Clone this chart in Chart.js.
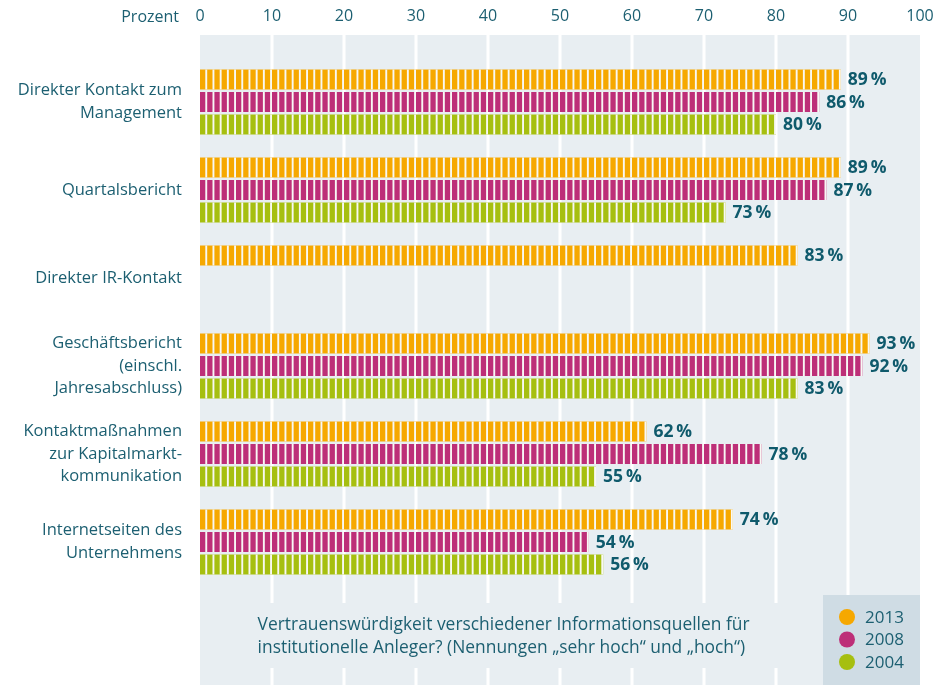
<!DOCTYPE html>
<html><head><meta charset="utf-8">
<script src="https://cdn.jsdelivr.net/npm/chart.js@4.4.1/dist/chart.umd.min.js"></script>
<style>html,body{margin:0;padding:0;background:#fff;}#wrap{width:945px;height:685px;}</style>
</head><body><div id="wrap"><canvas id="c" width="945" height="685"></canvas></div>
<script>
const categories = [
  ['Direkter Kontakt zum', 'Management'],
  'Quartalsbericht',
  'Direkter IR-Kontakt',
  ['Geschäftsbericht', '(einschl.', 'Jahresabschluss)'],
  ['Kontaktmaßnahmen', 'zur Kapitalmarkt-', 'kommunikation'],
  ['Internetseiten des', 'Unternehmens']
];
const seriesNames = ['2013', '2008', '2004'];
const values2013 = [89, 89, 83, 93, 62, 74];
const values2008 = [86, 87, null, 92, 78, 54];
const values2004 = [80, 73, null, 83, 55, 56];
const xTicks = [0, 10, 20, 30, 40, 50, 60, 70, 80, 90, 100];
const axisUnitLabel = 'Prozent';
const captionLines = [
  'Vertrauenswürdigkeit verschiedener Informationsquellen für',
  'institutionelle Anleger? (Nennungen \u201Esehr hoch\u201C und \u201Ehoch\u201C)'
];

const COLORS = ['#f6a800', '#bd2f78', '#a6bf10'];
const TEXT = '#1c5f71';
const VALTEXT = '#0f5a6c';
const PLOTBG = '#e8eef2';
const LEGENDBG = '#cfdce4';
const FONT = "'Open Sans', sans-serif";

const bgPlugin = {
  id: 'bg',
  beforeDatasetsDraw(chart) {
    const {ctx, chartArea, scales} = chart;
    const x = scales.x;
    const top = chartArea.top - 23, bottom = chart.height;
    ctx.save();
    ctx.fillStyle = PLOTBG;
    ctx.fillRect(chartArea.left, top, chartArea.right - chartArea.left, bottom - top);
    ctx.fillStyle = '#ffffff';
    xTicks.forEach(t => {
      if (t === 0 || t === 100) return;
      const px = x.getPixelForValue(t);
      ctx.fillRect(px - 1.5, top, 3, bottom - top);
    });
    ctx.restore();
  }
};

const stripePlugin = {
  id: 'stripes',
  afterDatasetsDraw(chart) {
    const {ctx, scales} = chart;
    const x = scales.x;
    ctx.save();
    chart.data.datasets.forEach((ds, di) => {
      const meta = chart.getDatasetMeta(di);
      meta.data.forEach((el, i) => {
        const v = ds.data[i];
        if (v === null || v === undefined) return;
        const h = el.height;
        const top = el.y - h / 2;
        ctx.fillStyle = '#f8f8f4';
        for (let k = 1; k <= Math.ceil(v); k++) {
          const px = x.getPixelForValue(k);
          ctx.fillRect(px - 1.9, top, 1.9, h);
        }
        ctx.fillStyle = VALTEXT;
        ctx.font = "bold 17.5px " + FONT;
        ctx.textAlign = 'left';
        ctx.textBaseline = 'middle';
        ctx.fillText(v + '\u2009%', x.getPixelForValue(v) + 7, el.y + 1);
      });
    });
    ctx.restore();
  },
  afterDraw(chart) {
    const {ctx, chartArea, scales} = chart;
    const x = scales.x;
    ctx.save();
    ctx.fillStyle = TEXT;
    ctx.font = "16px " + FONT;
    ctx.textAlign = 'right';
    ctx.textBaseline = 'middle';
    ctx.fillText(axisUnitLabel, chartArea.left - 21, 17);
    // caption
    const capLeft = x.getPixelForValue(8);
    ctx.fillStyle = PLOTBG;
    ctx.fillRect(capLeft - 18, chartArea.bottom + 17, 560, 65);
    ctx.fillStyle = TEXT;
    ctx.font = "17.4px " + FONT;
    ctx.textAlign = 'left';
    captionLines.forEach((l, i) => ctx.fillText(l, capLeft, chartArea.bottom + 39 + i * 23));
    // legend
    const lx = chartArea.right - 97;
    const ly = chartArea.bottom + 9;
    ctx.fillStyle = LEGENDBG;
    ctx.fillRect(lx, ly, 97, chart.height - ly);
    chart.data.datasets.forEach((ds, i) => {
      const cy = ly + 22 + i * 22.5;
      ctx.fillStyle = ds.backgroundColor;
      ctx.beginPath();
      ctx.arc(lx + 24, cy, 8, 0, Math.PI * 2);
      ctx.fill();
      ctx.fillStyle = TEXT;
      ctx.font = "17px " + FONT;
      ctx.fillText(ds.label, lx + 42, cy + 1);
    });
    ctx.restore();
  }
};

new Chart(document.getElementById('c'), {
  type: 'bar',
  data: {
    labels: categories,
    datasets: [
      {label: seriesNames[0], data: values2013, backgroundColor: COLORS[0]},
      {label: seriesNames[1], data: values2008, backgroundColor: COLORS[1]},
      {label: seriesNames[2], data: values2004, backgroundColor: COLORS[2]}
    ]
  },
  options: {
    indexAxis: 'y',
    responsive: false,
    animation: false,
    devicePixelRatio: 1,
    layout: {padding: {top: 8, right: 25, bottom: 99, left: 0}},
    datasets: {bar: {categoryPercentage: 0.767, barPercentage: 0.889}},
    plugins: {legend: {display: false}, tooltip: {enabled: false}},
    scales: {
      x: {
        position: 'top',
        min: 0, max: 100,
        afterBuildTicks: s => { s.ticks = xTicks.map(v => ({value: v})); },
        afterFit: s => { s.height = 50; s.paddingLeft = 0; s.paddingRight = 0; },
        grid: {display: false, drawTicks: false},
        border: {display: false},
        ticks: {color: TEXT, font: {family: FONT, size: 16}, padding: 32, maxRotation: 0}
      },
      y: {
        afterFit: s => { s.width = 200; },
        grid: {display: false, drawTicks: false},
        border: {display: false},
        ticks: {color: TEXT, font: {family: FONT, size: 16.5, lineHeight: 1.37}, padding: 18}
      }
    }
  },
  plugins: [bgPlugin, stripePlugin]
});
</script></body></html>
